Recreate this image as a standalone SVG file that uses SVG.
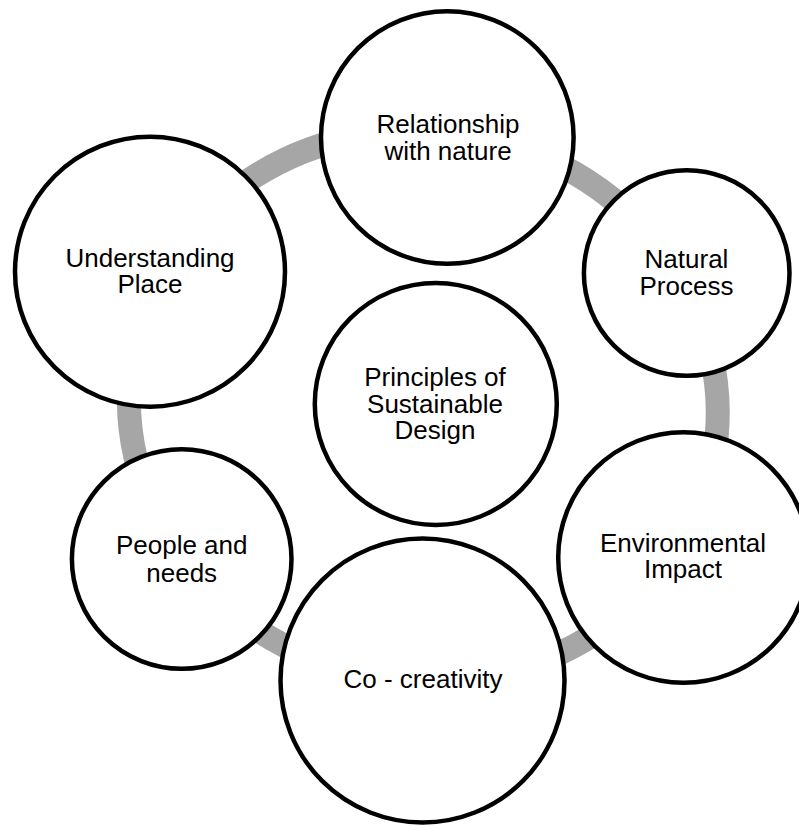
<svg xmlns="http://www.w3.org/2000/svg" width="799" height="827" viewBox="0 0 799 827">
<style>
.node{fill:#ffffff;stroke:#000000;stroke-width:4.5}
.lbl{font-family:"Liberation Sans",Arial,sans-serif;font-size:26px;fill:#000000;text-anchor:middle}
.ring{fill:none;stroke:#a6a6a6;stroke-width:24}
</style>
<rect width="799" height="827" fill="#ffffff"/>
<g id="connectors">
<ellipse class="ring" cx="423.3" cy="406" rx="295" ry="275" transform="rotate(10 423.3 406)"/>
</g>
<g id="relationship">
<circle class="node" cx="447.3" cy="137.5" r="126.3"/>
<text class="lbl" x="448" y="133">Relationship</text>
<text class="lbl" x="448" y="159.5">with nature</text>
</g>
<g id="natural-process">
<circle class="node" cx="686.7" cy="273" r="102.8"/>
<text class="lbl" x="686.5" y="268.3">Natural</text>
<text class="lbl" x="686.5" y="294.5">Process</text>
</g>
<g id="environmental-impact">
<circle class="node" cx="683.5" cy="557.5" r="125.3"/>
<text class="lbl" x="683" y="551.7">Environmental</text>
<text class="lbl" x="683" y="578.3">Impact</text>
</g>
<g id="co-creativity">
<circle class="node" cx="422.5" cy="680.5" r="142"/>
<text class="lbl" x="423" y="687.7">Co - creativity</text>
</g>
<g id="people-needs">
<circle class="node" cx="181.7" cy="559" r="109.8"/>
<text class="lbl" x="181.7" y="554">People and</text>
<text class="lbl" x="181.7" y="581.5">needs</text>
</g>
<g id="understanding-place">
<circle class="node" cx="150" cy="271.7" r="135"/>
<text class="lbl" x="150" y="266.7">Understanding</text>
<text class="lbl" x="150" y="293.3">Place</text>
</g>
<g id="principles">
<circle class="node" cx="435.8" cy="404" r="121"/>
<text class="lbl" x="435" y="386">Principles of</text>
<text class="lbl" x="435" y="412.7">Sustainable</text>
<text class="lbl" x="435" y="439.2">Design</text>
</g>
</svg>
